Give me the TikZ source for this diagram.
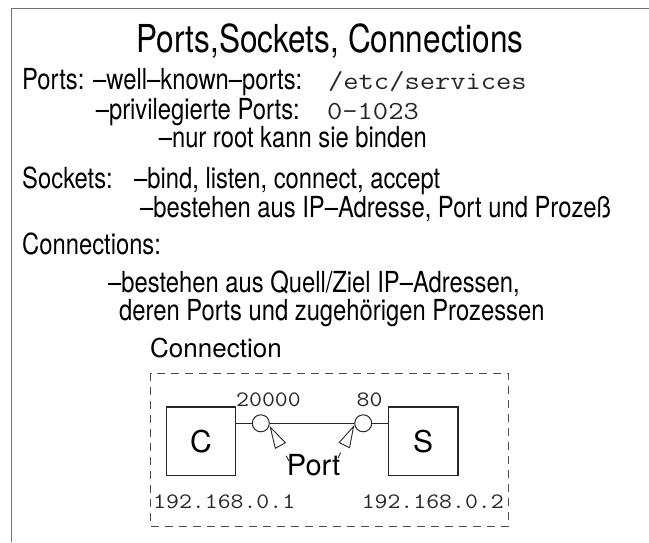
\documentclass[tikz,border=0pt]{standalone}
\usepackage{fontspec}
% narrow sans for the slide text, regular sans for the sketch, thin typewriter for code
\setmainfont[FakeStretch=0.82]{TeX Gyre Heros}
\newfontfamily\plainsans{TeX Gyre Heros}
\setmonofont[FakeStretch=1.14]{Latin Modern Mono}
\usetikzlibrary{arrows.meta}

\begin{document}
\begin{tikzpicture}[x=1pt,y=-1pt,
  body/.style={anchor=base west,inner sep=0pt,font=\fontsize{29}{34}\selectfont},
  code/.style={anchor=base west,inner sep=0pt,text=black!85,font=\fontsize{26}{30}\selectfont\ttfamily},
  label/.style={inner sep=0pt,text=black!85,font=\fontsize{22}{26}\selectfont\ttfamily},
  sketchtext/.style={inner sep=0pt,font=\plainsans\fontsize{26}{30}\selectfont},
  hostbox/.style={draw=black!85,line width=1.1pt,minimum width=69.5pt,minimum height=68.5pt,inner sep=0pt,font=\plainsans\fontsize{30}{36}\selectfont},
  portdot/.style={circle,draw=black!85,line width=1pt,minimum size=17pt,inner sep=0pt},
  wire/.style={draw=black!85,line width=1pt},
  dashframe/.style={draw=black!70,line width=1pt,dash pattern=on 8.5pt off 5.5pt,minimum width=357.5pt,minimum height=153.5pt,inner sep=0pt},
  portarrow/.style={draw=black!85,line width=0.9pt,dash pattern=on 6pt off 30pt,
    -{Triangle[open,length=23pt,width=12.5pt,line width=0.9pt]}},
  slideframe/.style={draw=black!55,line width=1.8pt}]

\useasboundingbox (0,0) rectangle (649,542);

% slide border
\draw[slideframe] (11.5,542) -- (11.5,8.5) -- (649,8.5);

% title
\node[anchor=base,inner sep=0pt,font=\fontsize{38.5}{44}\selectfont] (title) at (330,52) {Ports,Sockets, Connections};

% ports
\node[body] (p1) at (22,89) {Ports: –well–known–ports:};
\node[code] (p1c) at (328,89) {/etc/services};
\node[body,anchor=base east] (p2) at (300,119) {–privilegierte Ports:};
\node[code] (p2c) at (327,119) {0–1023};
\node[body,anchor=base east] (p3) at (427,147) {–nur root kann sie binden};

% sockets
\node[body] (s1) at (22,188) {Sockets:};
\node[body] (s1b) at (134,188) {–bind, listen, connect, accept};
\node[body] (s2) at (140,217) {–bestehen aus IP–Adresse, Port und Prozeß};

% connections
\node[body] (c1) at (22,254) {Connections:};
\node[body] (c2) at (108,292) {–bestehen aus Quell/Ziel IP–Adressen,};
\node[body] (c3) at (119,320) {deren Ports und zugehörigen Prozessen};

% connection sketch
\node[sketchtext,anchor=base west] (ctitle) at (150,357) {Connection};
\node[dashframe] (conn) at (329.25,449.75) {};

\node[hostbox] (client) at (200.9,441.2) {C};
\node[hostbox] (server) at (423.2,441.2) {S};
\node[portdot] (lp) at (260.8,423.3) {};
\node[portdot] (rp) at (363.2,423.3) {};

\draw[wire] (client.east |- lp) -- (lp.west);
\draw[wire] (lp.east) -- (rp.west);
\draw[wire] (rp.east) -- (server.west |- rp);

\node[label,anchor=base west] (lport) at (236,406.5) {20000};
\node[label,anchor=base west] (rport) at (356.5,406.5) {80};
\node[label,anchor=base west] (cip) at (153,508) {192.168.0.1};
\node[label,anchor=base east] (sip) at (504,508) {192.168.0.2};

\node[sketchtext,anchor=base west,font=\plainsans\fontsize{29}{34}\selectfont] (port) at (286.7,475) {Port};
\coordinate (ltail) at (289,461);
\coordinate (rtail) at (338,458);
\draw[portarrow] (ltail) -- (lp.-16);
\draw[portarrow] (rtail) -- (rp.190);

\end{tikzpicture}
\end{document}
